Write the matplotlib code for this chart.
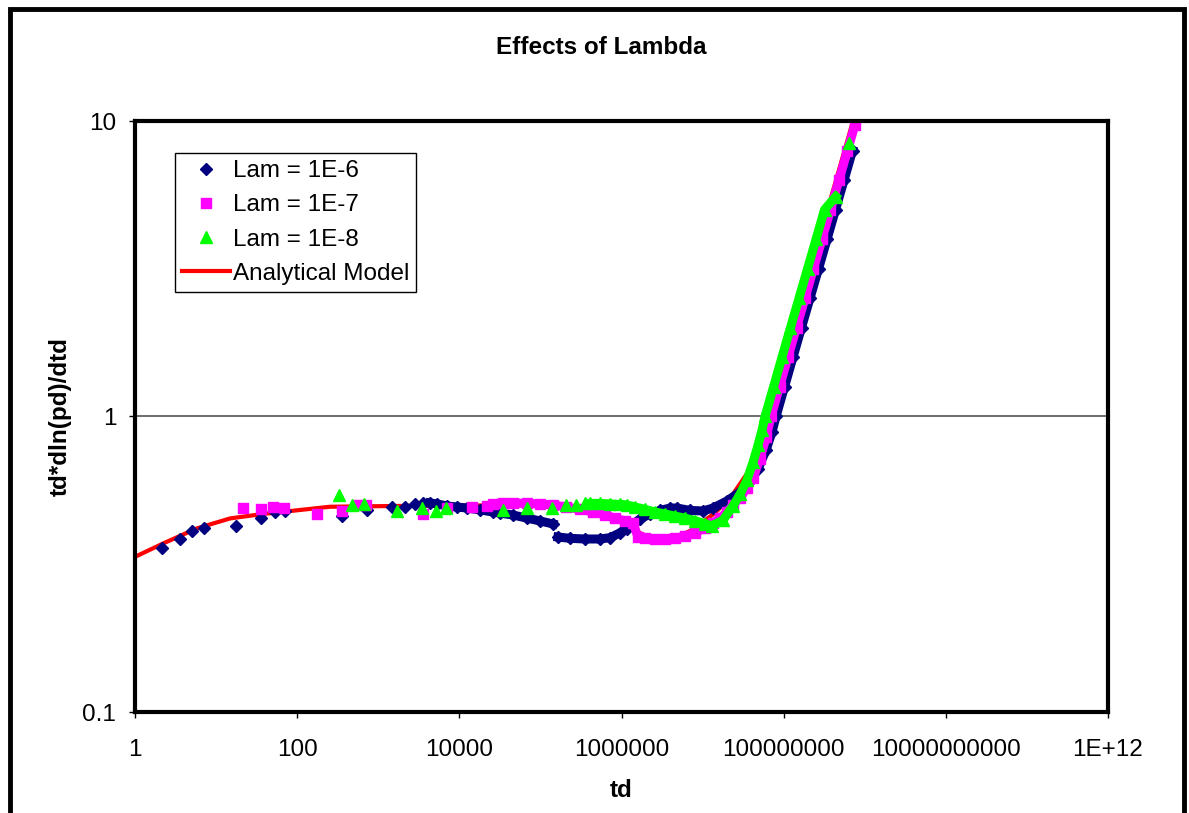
import numpy as np
import matplotlib.pyplot as plt
from matplotlib.patches import Rectangle

plt.rcParams['font.family'] = ['Liberation Sans', 'DejaVu Sans']

# Lam = 1E-6 : scattered early points, then two dense runs
td_a_early = [2.13, 3.59, 5.0, 7.1, 17.6, 35.5, 53, 71, 354, 720, 1466, 2138, 2840, 3565]
pd_a_early = [0.360, 0.385, 0.410, 0.418, 0.427, 0.455, 0.476, 0.480, 0.462, 0.483, 0.495, 0.495, 0.506, 0.508]
td_a_run1 = [4350, 5300, 7050, 9360, 12440, 17990, 26020, 31740, 45920, 68350, 98900, 143000]
pd_a_run1 = [0.510, 0.506, 0.498, 0.494, 0.490, 0.483, 0.475, 0.471, 0.464, 0.453, 0.443, 0.433]
td_a_run2 = [1.648e5, 2.317e5, 3.55e5, 5.43e5, 7.22e5, 9.59e5, 1.169e6, 1.387e6, 1.692e6, 2.248e6,
             2.986e6, 3.966e6, 4.84e6, 7.0e6, 1.012e7, 1.346e7, 2.0e7, 2.89e7, 3.85e7, 4.83e7,
             6.07e7, 7.18e7, 8.05e7, 1.025e8, 1.306e8, 1.66e8, 2.11e8, 2.69e8, 3.43e8, 4.36e8,
             5.56e8, 7.07e8]
pd_a_run2 = [0.391, 0.387, 0.385, 0.385, 0.389, 0.404, 0.416, 0.433, 0.450, 0.468,
             0.481, 0.490, 0.490, 0.481, 0.479, 0.490, 0.518, 0.555, 0.605, 0.664,
             0.770, 0.886, 1.0, 1.26, 1.59, 2.0, 2.51, 3.16, 3.98, 5.01,
             6.31, 7.94]

# Lam = 1E-7
td_b_early = [21.3, 35.5, 49.9, 69.4, 177, 354, 562, 707, 3565, 6980, 14330, 21950]
pd_b_early = [0.491, 0.486, 0.495, 0.489, 0.468, 0.480, 0.502, 0.502, 0.468, 0.489, 0.495, 0.498]
td_b_run = [26020, 34580, 45920, 68350, 98900, 143000, 207000, 307800, 445600, 626500,
            832000, 1.104e6, 1.387e6, 1.599e6, 1.95e6, 2.59e6, 3.44e6, 4.57e6, 6.07e6, 8.07e6,
            1.07e7, 1.346e7, 1.641e7, 2.0e7, 2.37e7, 2.89e7, 3.53e7, 4.19e7, 5.1e7, 6.07e7,
            6.98e7, 8.89e7, 1.132e8, 1.44e8, 1.83e8, 2.33e8, 2.97e8, 3.78e8, 4.81e8, 6.12e8,
            7.55e8]
pd_b_run = [0.506, 0.510, 0.510, 0.508, 0.506, 0.502, 0.494, 0.485, 0.475, 0.464,
            0.453, 0.443, 0.436, 0.391, 0.387, 0.386, 0.386, 0.387, 0.394, 0.404,
            0.420, 0.436, 0.453, 0.475, 0.502, 0.530, 0.573, 0.619, 0.72, 0.85,
            1.0, 1.26, 1.59, 2.0, 2.51, 3.16, 3.98, 5.01, 6.31, 7.94,
            9.68]

# Lam = 1E-8
td_c_early = [331, 471, 673, 1690, 3435, 5155, 6850, 34580, 68350, 139000, 207000, 275000, 355000]
pd_c_early = [0.542, 0.502, 0.506, 0.480, 0.489, 0.477, 0.489, 0.483, 0.489, 0.489, 0.502, 0.502, 0.508]
td_c_run = [409000, 543000, 721700, 959000, 1.169e6, 1.47e6, 1.95e6, 2.59e6, 3.44e6, 4.57e6,
            6.07e6, 8.07e6, 1.07e7, 1.306e7, 1.787e7, 2.37e7, 2.89e7, 3.53e7, 4.19e7, 4.83e7,
            5.41e7, 5.89e7, 7.50e7, 9.55e7, 1.214e8, 1.545e8, 1.968e8, 2.51e8, 3.19e8, 4.39e8]
pd_c_run = [0.508, 0.508, 0.506, 0.504, 0.502, 0.494, 0.485, 0.475, 0.468, 0.460,
            0.453, 0.444, 0.434, 0.426, 0.446, 0.498, 0.545, 0.61, 0.70, 0.80,
            0.90, 1.0, 1.26, 1.59, 2.0, 2.51, 3.16, 3.98, 5.01, 5.55]
td_c_last = [6.4e8]
pd_c_last = [8.43]

# analytical model
td_model = [1, 2.23, 5.77, 14.9, 38.2, 254, 1690, 1e4, 1e5, 5e5, 1e6, 1.4e6, 2e6, 3e6, 5e6,
            7e6, 1e7, 1.4e7, 2.2e7, 3e7, 4.7e7, 6.4e7, 1.33e8, 3.47e8, 7.17e8]
pd_model = [0.335, 0.372, 0.418, 0.452, 0.468, 0.495, 0.498, 0.5, 0.5, 0.478, 0.446, 0.413,
            0.395, 0.387, 0.393, 0.41, 0.44, 0.47, 0.53, 0.60, 0.72, 1.0, 2.0, 5.0, 10.0]

xtick_vals = [1, 1e2, 1e4, 1e6, 1e8, 1e10, 1e12]
xtick_text = ['1', '100', '10000', '1000000', '100000000', '10000000000', '1E+12']
ytick_vals = [0.1, 1, 10]
ytick_text = ['0.1', '1', '10']

navy = '#000080'
pink = '#FF00FF'
lime = '#00FF00'
red = '#FF0000'
fs = 17.5

fig = plt.figure(figsize=(11.89, 8.13), dpi=100)
ax = fig.add_axes([135 / 1189, 1 - 712 / 813, 973 / 1189, 591 / 813])

ax.plot(td_model, pd_model, color=red, lw=3, zorder=2, label='Analytical Model')

ms_d, ms_s, ms_t = 6.4, 7.4, 8.0
band = 6.5

ax.plot(td_a_early, pd_a_early, 'D', color=navy, ms=ms_d, zorder=3, label='Lam = 1E-6')
ax.plot(td_a_run1, pd_a_run1, 'D-', color=navy, ms=ms_d, lw=band, zorder=3)
ax.plot(td_a_run2, pd_a_run2, 'D-', color=navy, ms=ms_d, lw=band, zorder=3)

ax.plot(td_b_early, pd_b_early, 's', color=pink, ms=ms_s, zorder=4, label='Lam = 1E-7')
ax.plot(td_b_run, pd_b_run, 's-', color=pink, ms=ms_s, lw=band, zorder=4)

ax.plot(td_c_early, pd_c_early, '^', color=lime, ms=ms_t, zorder=5, label='Lam = 1E-8')
ax.plot(td_c_run, pd_c_run, '^-', color=lime, ms=ms_t, lw=band, zorder=5)
ax.plot(td_c_last, pd_c_last, '^', color=lime, ms=ms_t, zorder=5)

ax.set_xscale('log')
ax.set_yscale('log')
ax.set_xlim(1, 1e12)
ax.set_ylim(0.1, 10)
ax.set_xticks(xtick_vals, xtick_text)
ax.set_yticks(ytick_vals, ytick_text)
ax.minorticks_off()
ax.tick_params(axis='both', direction='out', length=4.5, width=1, labelsize=fs, color='black')
ax.tick_params(axis='x', pad=15)
ax.tick_params(axis='y', pad=9)
ax.axhline(1, color='#555555', lw=1.2, zorder=1)
for s in ax.spines.values():
    s.set_linewidth(3)
    s.set_zorder(6)

ax.set_xlabel('td', fontsize=fs, fontweight='bold', labelpad=13)
ax.set_ylabel('td*dln(pd)/dtd', fontsize=fs, fontweight='bold', labelpad=8)
fig.text(601 / 1189, 1 - 47 / 813, 'Effects of Lambda', fontsize=fs, fontweight='bold',
         ha='center', va='center')

h, l = ax.get_legend_handles_labels()
order = [1, 2, 3, 0]
leg = ax.legend([h[i] for i in order], [l[i] for i in order], loc='upper left',
                bbox_to_anchor=(40 / 973, 1 - 32 / 591), borderaxespad=0, fontsize=fs,
                fancybox=False, edgecolor='black', framealpha=1, labelspacing=0.5,
                handlelength=1.95, handletextpad=0.12, borderpad=0.3)
leg.get_frame().set_linewidth(1.0)

# outer chart frame (bottom edge runs past the image)
fig.add_artist(Rectangle((9.5 / 1189, -0.1), 1174 / 1189, 1.1 - 9.5 / 813,
                         transform=fig.transFigure, fill=False, lw=3.5, edgecolor='black'))

fig.savefig('out.png', dpi=100)
